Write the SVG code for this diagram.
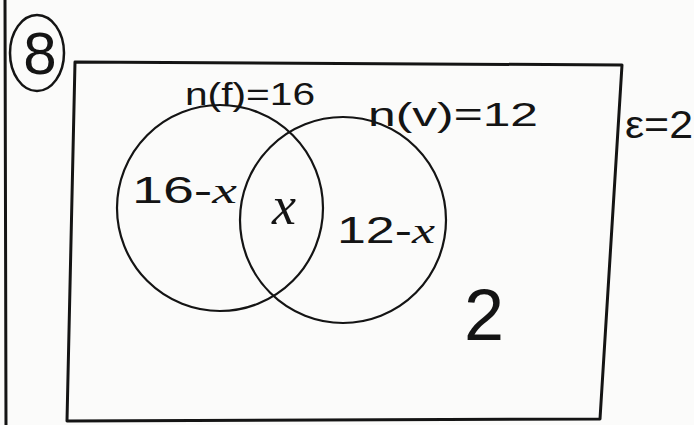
<svg xmlns="http://www.w3.org/2000/svg" width="694" height="425" viewBox="0 0 694 425">
<style>
.ln{fill:none;stroke:#141414;stroke-linecap:round;stroke-linejoin:round}
.t{font-family:"Liberation Sans","DejaVu Sans",sans-serif;fill:#141414}
.i{font-style:italic;font-family:"Liberation Serif","DejaVu Serif",serif}
</style>
<rect width="694" height="425" fill="#fbfbfa"/>
<g id="page-margin">
<line class="ln" x1="5" y1="0" x2="6" y2="425" stroke-width="3"/>
</g>
<g id="question-number">
<ellipse class="ln" cx="37" cy="53" rx="27" ry="38" stroke-width="2.5"/>
<text class="t" x="40" y="74" font-size="60" text-anchor="middle">8</text>
</g>
<g id="universe">
<path class="ln" d="M75,62 L622,65 L600,419 L67,421 Z" stroke-width="3"/>
<text class="t" x="625" y="138" font-size="38" textLength="68" lengthAdjust="spacingAndGlyphs">ε=2</text>
<text class="t" x="484" y="340" font-size="72" text-anchor="middle">2</text>
</g>
<g id="set-f">
<circle class="ln" cx="220" cy="208" r="103" stroke-width="2.2"/>
<text class="t" x="185" y="105" font-size="32" textLength="130" lengthAdjust="spacingAndGlyphs">n(f)=16</text>
<text class="t" x="132" y="203" font-size="36" textLength="105" lengthAdjust="spacingAndGlyphs">16-<tspan class="i">x</tspan></text>
</g>
<g id="intersection">
<text class="t i" x="284" y="224" font-size="54" text-anchor="middle">x</text>
</g>
<g id="set-v">
<circle class="ln" cx="343" cy="220" r="103" stroke-width="2.2"/>
<text class="t" x="368" y="126" font-size="34" textLength="170" lengthAdjust="spacingAndGlyphs">n(v)=12</text>
<text class="t" x="337" y="243" font-size="36" textLength="98" lengthAdjust="spacingAndGlyphs">12-<tspan class="i">x</tspan></text>
</g>
</svg>
